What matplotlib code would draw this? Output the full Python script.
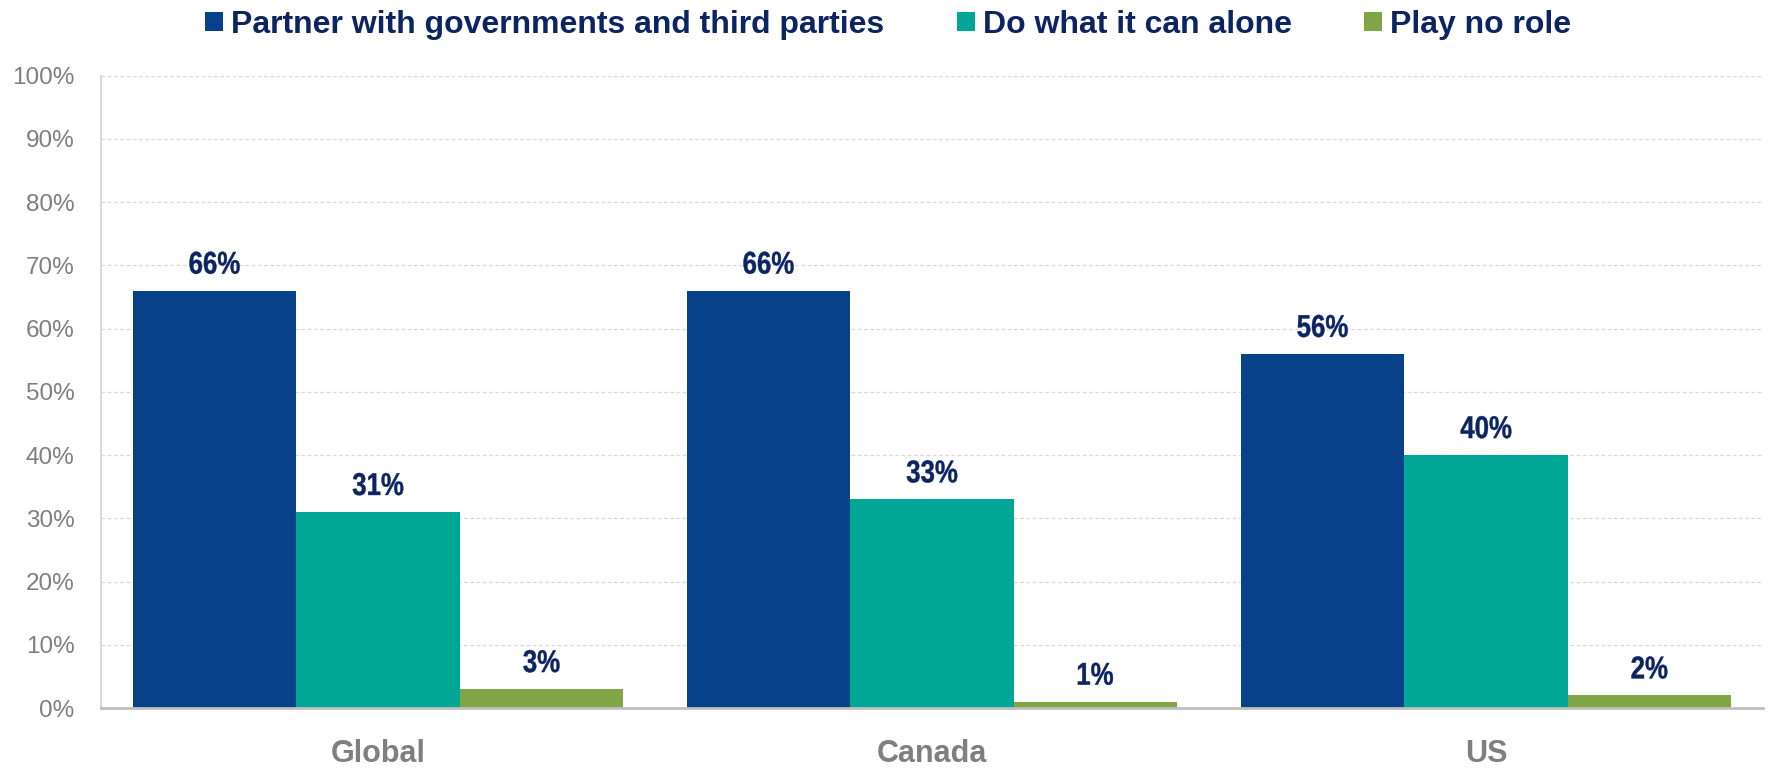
import matplotlib
matplotlib.use("Agg")
import matplotlib.pyplot as plt
import numpy as np
from matplotlib.patches import Patch, PathPatch
from matplotlib.textpath import TextPath
from matplotlib.font_manager import FontProperties
from matplotlib.transforms import Affine2D, ScaledTranslation

# survey shares (%) per region
regions = ["Global", "Canada", "US"]
series_names = ["Partner with governments and third parties", "Do what it can alone", "Play no role"]
partner = [66, 66, 56]
alone = [31, 33, 40]
no_role = [3, 1, 2]
yticks = [0, 10, 20, 30, 40, 50, 60, 70, 80, 90, 100]

colors = ["#06418A", "#00A796", "#7FA544"]
navy = "#0C2461"
gray = "#7F7F7F"

plt.rcParams["font.family"] = ["Liberation Sans", "DejaVu Sans"]

fig = plt.figure(figsize=(17.69, 7.70), dpi=100)
ax = fig.add_axes([0.0571, 0.0805, 0.9395, 0.8213])

label_font = FontProperties(family="Liberation Sans", weight="bold")


def value_label(xd, yd, text, size_px=31.5, squeeze=0.82, lift_px=17):
    # condensed bold label drawn as a path, squeezed horizontally
    tp = TextPath((0, 0), text, size=size_px, prop=label_font)
    ext = tp.get_extents()
    cx = (ext.x0 + ext.x1) / 2
    tr = (Affine2D().translate(-cx, 0).scale(squeeze, 1).translate(0, lift_px)
          + ScaledTranslation(xd, yd, ax.transData))
    ax.add_artist(PathPatch(tp, transform=tr, facecolor=navy, edgecolor=navy,
                            linewidth=0.3, zorder=4, clip_on=False))


x = np.arange(len(regions))
w = 0.295
for i, vals in enumerate([partner, alone, no_role]):
    pos = x + (i - 1) * w
    ax.bar(pos, vals, width=w, color=colors[i], zorder=3, label=series_names[i])
    for px, v in zip(pos, vals):
        value_label(px, v, f"{v}%")

ax.set_xlim(-0.5, 2.5)
ax.set_ylim(0, 100)
ax.set_yticks(yticks)
ax.set_yticklabels([f"{t}%" for t in yticks])
ax.set_xticks(x)
ax.set_xticklabels(regions)

ax.tick_params(axis="y", length=0, pad=19, labelsize=17.5, labelcolor=gray)
ax.tick_params(axis="x", length=0, pad=22, labelsize=22, labelcolor=gray)
for lab in ax.get_xticklabels():
    lab.set_fontweight("bold")

ax.yaxis.grid(True, color="#D9D9D9", linewidth=0.9, linestyle=(0, (3, 2)), zorder=0)
ax.set_axisbelow(True)
for s in ["top", "right"]:
    ax.spines[s].set_visible(False)
ax.spines["left"].set_color("#D9D9D9")
ax.spines["left"].set_linewidth(1.4)
ax.spines["bottom"].set_color("#BFBFBF")
ax.spines["bottom"].set_linewidth(2)
ax.spines["bottom"].set_zorder(5)

handles = [Patch(facecolor=c, edgecolor="none") for c in colors]
leg = fig.legend(handles, series_names, loc="center", bbox_to_anchor=(0.502, 0.968),
                 ncol=3, frameon=False, borderpad=0, handlelength=0.56, handleheight=0.56,
                 handletextpad=0.25, columnspacing=2.28,
                 prop={"family": "Liberation Sans", "weight": "bold", "size": 23})
for t in leg.get_texts():
    t.set_color(navy)

fig.savefig("out.png", dpi=100)
